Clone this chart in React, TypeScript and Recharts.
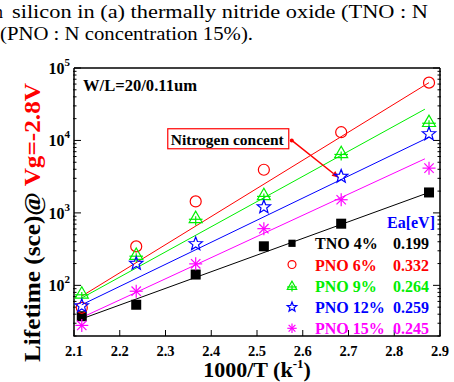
import React from "react"
import { ComposedChart, Line, XAxis, YAxis, ReferenceLine } from "recharts"

const FONT = '"Liberation Serif", "Times New Roman", serif'

// 1000/T positions of the measured points
const invTemp = [2.117, 2.236, 2.366, 2.515, 2.684, 2.876]

// lifetime (sce) per oxide
const tno4 = [37.5, 54, 141, 346, 710, 1915]
const pno6 = [49, 345, 1440, 3940, 13000, 62800]
const pno9 = [78, 266, 860, 1780, 6750, 18200]
const pno12 = [52, 200, 373, 1206, 3180, 12300]
const pno15 = [28, 83, 198, 606, 1520, 4150]

// fitted line end points (x, then y)
const tno4FitX = [2.117, 2.876]
const tno4Fit = [34.5, 1915]
const pno6FitX = [2.117, 2.876]
const pno6Fit = [71, 62800]
const pno9FitX = [2.117, 2.867]
const pno9Fit = [67, 27000]
const pno12FitX = [2.117, 2.876]
const pno12Fit = [54, 11100]
const pno15FitX = [2.117, 2.867]
const pno15Fit = [36, 5580]

const seriesNames = ["TNO 4%", "PNO 6%", "PNO 9%", "PNO 12%", "PNO 15%"]
const activationEnergy = ["0.199", "0.332", "0.264", "0.259", "0.245"]

const xMajorTicks = [2.1, 2.2, 2.3, 2.4, 2.5, 2.6, 2.7, 2.8, 2.9]
const xMinorTicks = [2.15, 2.25, 2.35, 2.45, 2.55, 2.65, 2.75, 2.85]
const yMajorTicks = [100, 1000, 10000, 100000]
const yMinorTicks = [
  20, 30, 40, 50, 60, 70, 80, 90,
  200, 300, 400, 500, 600, 700, 800, 900,
  2000, 3000, 4000, 5000, 6000, 7000, 8000, 9000,
  20000, 30000, 40000, 50000, 60000, 70000, 80000, 90000,
]

// annotation arrow ("Nitrogen concent" -> PNO 12% point)
const arrowX = [2.576, 2.679]
const arrowY = [10000, 3050]

const toPoints = (xs: number[], ys: number[]) => ys.map((y, i) => ({ x: xs[i], y }))

const series = [
  { name: seriesNames[0], ea: activationEnergy[0], color: "#000000", kind: "square", values: tno4, fitX: tno4FitX, fit: tno4Fit },
  { name: seriesNames[1], ea: activationEnergy[1], color: "#ff0000", kind: "circle", values: pno6, fitX: pno6FitX, fit: pno6Fit },
  { name: seriesNames[2], ea: activationEnergy[2], color: "#00ee00", kind: "triangle", values: pno9, fitX: pno9FitX, fit: pno9Fit },
  { name: seriesNames[3], ea: activationEnergy[3], color: "#0000ff", kind: "star", values: pno12, fitX: pno12FitX, fit: pno12Fit },
  { name: seriesNames[4], ea: activationEnergy[4], color: "#ff00ff", kind: "asterisk", values: pno15, fitX: pno15FitX, fit: pno15Fit },
]

function Marker({ kind, cx, cy, color, s = 1 }: { kind: string; cx: number; cy: number; color: string; s?: number }) {
  if (cx == null || cy == null) return null
  const sw = 1.2
  switch (kind) {
    case "square":
      return <rect x={cx - 5 * s} y={cy - 5 * s} width={10 * s} height={10 * s} fill={color} />
    case "circle":
      return <circle cx={cx} cy={cy} r={5.5 * s} fill="none" stroke={color} strokeWidth={sw} />
    case "triangle": {
      const r = 6.5 * s
      const pts = `${cx},${cy - r} ${cx - r},${cy + r * 0.75} ${cx + r},${cy + r * 0.75}`
      return (
        <g stroke={color} strokeWidth={sw} fill="none">
          <polygon points={pts} />
          <line x1={cx - r * 1.05} y1={cy + r * 0.25} x2={cx + r * 1.05} y2={cy + r * 0.25} />
          <line x1={cx} y1={cy - r * 0.2} x2={cx} y2={cy + r * 1.2} />
        </g>
      )
    }
    case "star": {
      const outer = 7 * s
      const inner = 3 * s
      const pts: string[] = []
      for (let i = 0; i < 10; i++) {
        const r = i % 2 === 0 ? outer : inner
        const a = -Math.PI / 2 + (i * Math.PI) / 5
        pts.push(`${cx + r * Math.cos(a)},${cy + r * Math.sin(a)}`)
      }
      return <polygon points={pts.join(" ")} fill="none" stroke={color} strokeWidth={sw} />
    }
    case "asterisk": {
      const r = 6.5 * s
      const d = r * 0.72
      return (
        <g stroke={color} strokeWidth={sw}>
          <line x1={cx} y1={cy - r} x2={cx} y2={cy + r} />
          <line x1={cx - r} y1={cy} x2={cx + r} y2={cy} />
          <line x1={cx - d} y1={cy - d} x2={cx + d} y2={cy + d} />
          <line x1={cx - d} y1={cy + d} x2={cx + d} y2={cy - d} />
        </g>
      )
    }
    default:
      return null
  }
}

function XTick({ x, y, payload }: any) {
  return (
    <text x={x} y={y} textAnchor="middle" fontFamily={FONT} fontWeight="bold" fontSize={14.5} fill="#000">
      {Number(payload.value).toFixed(1)}
    </text>
  )
}

function YTick({ x, y, payload }: any) {
  const exp = Math.round(Math.log10(payload.value))
  return (
    <text x={x} y={y} dy={6} textAnchor="end" fontFamily={FONT} fontWeight="bold" fontSize={16} fill="#000">
      10
      <tspan dy={-8} fontSize={11}>
        {exp}
      </tspan>
    </text>
  )
}

function Annotation(props: any) {
  const { x1, y1, x2, y2 } = props
  const ang = Math.atan2(y2 - y1, x2 - x1)
  const hl = 7
  const hw = 3
  const bx = x2 - hl * Math.cos(ang)
  const by = y2 - hl * Math.sin(ang)
  const px = -Math.sin(ang) * hw
  const py = Math.cos(ang) * hw
  return (
    <g>
      <rect x={x1 - 124} y={y1 - 11.7} width={121} height={20} fill="#fff" stroke="#ff0000" strokeWidth={1.2} />
      <text x={x1 - 121} y={y1 + 4.3} fontFamily={FONT} fontWeight="bold" fontSize={15.5} textLength={113} lengthAdjust="spacingAndGlyphs" fill="#000">
        Nitrogen concent
      </text>
      <line x1={x1} y1={y1} x2={bx} y2={by} stroke="#ff0000" strokeWidth={1.5} />
      <circle cx={x1} cy={y1} r={2} fill="#ff0000" />
      <polygon points={`${x2},${y2} ${bx + px},${by + py} ${bx - px},${by - py}`} fill="#ff0000" />
    </g>
  )
}

const axisLine = { stroke: "#000", strokeWidth: 1.5 }
const tickLine = { stroke: "#000", strokeWidth: 1 }
const blank = () => ""

export default function App() {
  return (
    <div style={{ position: "absolute", left: 0, top: 0, width: 454, height: 382, background: "#fff", overflow: "hidden" }}>
      <div style={{ position: "absolute", left: 0, top: 0 }}>
        <ComposedChart width={454} height={382} margin={{ top: 66, right: 12, bottom: 44, left: 72 }}>
          <XAxis xAxisId="x" dataKey="x" type="number" domain={[2.1, 2.9]} allowDataOverflow ticks={xMajorTicks} interval={0} height={1} tickSize={-6} tickMargin={26} tick={<XTick />} axisLine={axisLine} tickLine={tickLine} />
          <XAxis xAxisId="xMinor" type="number" domain={[2.1, 2.9]} allowDataOverflow ticks={xMinorTicks} interval={0} height={1} tickSize={-3} tickFormatter={blank} axisLine={false} tickLine={tickLine} />
          <XAxis xAxisId="top" orientation="top" type="number" domain={[2.1, 2.9]} allowDataOverflow ticks={xMajorTicks} interval={0} height={1} tickSize={-6} tickFormatter={blank} axisLine={axisLine} tickLine={tickLine} />
          <XAxis xAxisId="topMinor" orientation="top" type="number" domain={[2.1, 2.9]} allowDataOverflow ticks={xMinorTicks} interval={0} height={1} tickSize={-3} tickFormatter={blank} axisLine={false} tickLine={tickLine} />

          <YAxis yAxisId="y" dataKey="y" scale="log" type="number" domain={[20, 100000]} allowDataOverflow ticks={yMajorTicks} interval={0} width={1} tickSize={-7} tickMargin={11} tick={<YTick />} axisLine={axisLine} tickLine={tickLine} />
          <YAxis yAxisId="yMinor" scale="log" type="number" domain={[20, 100000]} allowDataOverflow ticks={yMinorTicks} interval={0} width={1} tickSize={-3.5} tickFormatter={blank} axisLine={false} tickLine={tickLine} />
          <YAxis yAxisId="right" orientation="right" scale="log" type="number" domain={[20, 100000]} allowDataOverflow ticks={yMajorTicks} interval={0} width={1} tickSize={-7} tickFormatter={blank} axisLine={axisLine} tickLine={tickLine} />
          <YAxis yAxisId="rightMinor" orientation="right" scale="log" type="number" domain={[20, 100000]} allowDataOverflow ticks={yMinorTicks} interval={0} width={1} tickSize={-3.5} tickFormatter={blank} axisLine={false} tickLine={tickLine} />

          {series.map((s) => (
            <Line
              key={`fit-${s.name}`}
              xAxisId="x"
              yAxisId="y"
              data={toPoints(s.fitX, s.fit)}
              dataKey="y"
              stroke={s.color}
              strokeWidth={1}
              dot={false}
              activeDot={false}
              isAnimationActive={false}
            />
          ))}
          {series.map((s) => (
            <Line
              key={`pts-${s.name}`}
              xAxisId="x"
              yAxisId="y"
              data={toPoints(invTemp, s.values)}
              dataKey="y"
              stroke="none"
              activeDot={false}
              isAnimationActive={false}
              dot={(p: any) => <Marker key={`${s.kind}-${p.index}`} kind={s.kind} cx={p.cx} cy={p.cy} color={s.color} />}
            />
          ))}

          <ReferenceLine
            xAxisId="x"
            yAxisId="y"
            segment={[
              { x: arrowX[0], y: arrowY[0] },
              { x: arrowX[1], y: arrowY[1] },
            ]}
            shape={(p: any) => <Annotation {...p} />}
          />
        </ComposedChart>
      </div>

      <svg width={454} height={382} style={{ position: "absolute", left: 0, top: 0, pointerEvents: "none" }}>
        <text x={-6} y={17.5} fontFamily={FONT} fontSize={18} fill="#000">n</text>
        <text x={12} y={17.5} fontFamily={FONT} fontSize={18} fill="#000" textLength={416} lengthAdjust="spacingAndGlyphs">
          silicon in (a) thermally nitride oxide (TNO : N
        </text>
        <text x={0} y={40} fontFamily={FONT} fontSize={18} fill="#000" textLength={253} lengthAdjust="spacingAndGlyphs">
          (PNO : N concentration 15%).
        </text>

        <text x={83} y={90.5} fontFamily={FONT} fontWeight="bold" fontSize={16} fill="#000" textLength={114} lengthAdjust="spacingAndGlyphs">
          W/L=20/0.11um
        </text>

        <text
          transform="translate(40,222.5) rotate(-90)"
          textAnchor="middle"
          fontFamily={FONT}
          fontWeight="bold"
          fontSize={24}
          textLength={279}
          lengthAdjust="spacingAndGlyphs"
        >
          <tspan fill="#000">Lifetime (sce)@ </tspan>
          <tspan fill="#ff0000">Vg=-2.8V</tspan>
        </text>

        <text x={257} y={376.5} textAnchor="middle" fontFamily={FONT} fontWeight="bold" fontSize={22} fill="#000">
          1000/T (k
          <tspan dy={-9} fontSize={13}>-1</tspan>
          <tspan dy={9}>)</tspan>
        </text>

        <text x={387} y={228} fontFamily={FONT} fontWeight="bold" fontSize={16} fill="#0000ff">
          Ea[eV]
        </text>
        {series.map((s, i) => {
          const cy = 243.3 + i * 21.25
          return (
            <g key={`leg-${s.name}`}>
              <Marker kind={s.kind} cx={292} cy={cy} color={s.color} s={0.72} />
              <text x={315} y={cy + 6} fontFamily={FONT} fontWeight="bold" fontSize={16} fill={s.color}>
                {s.name}
              </text>
              <text x={393} y={cy + 6} fontFamily={FONT} fontWeight="bold" fontSize={16} fill={s.color}>
                {s.ea}
              </text>
            </g>
          )
        })}
      </svg>
    </div>
  )
}
